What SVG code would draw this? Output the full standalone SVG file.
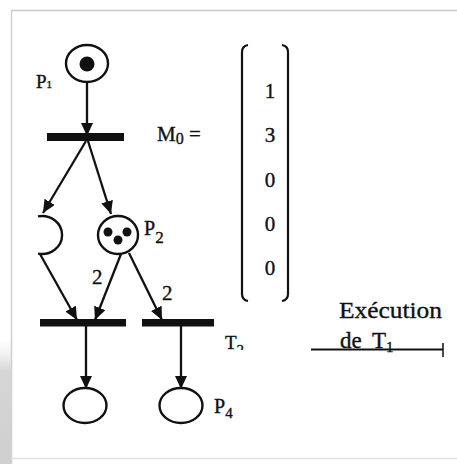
<svg xmlns="http://www.w3.org/2000/svg" width="457" height="464" viewBox="0 0 457 464">
<defs>
<style>
.pl{fill:#fff;stroke:#111;stroke-width:2.4}
.tk{fill:#111}
.tr{fill:#111}
.ar{stroke:#111;stroke-width:2.3;fill:none;marker-end:url(#ah)}
.t{font-family:"Liberation Serif","Times New Roman",serif;fill:#111;stroke:#111;stroke-width:0.35}
</style>
<marker id="ah" viewBox="0 0 13 12" refX="13" refY="6" markerWidth="13" markerHeight="12" markerUnits="userSpaceOnUse" orient="auto">
<path d="M0,0 L13,6 L0,12 Z" fill="#111"/>
</marker>
<linearGradient id="sh" x1="0" y1="0" x2="0" y2="1">
<stop offset="0" stop-color="#e8e8e8" stop-opacity="0"/>
<stop offset="0.25" stop-color="#d6d6d6"/>
<stop offset="1" stop-color="#cfcfcf"/>
</linearGradient>
<clipPath id="cutT2"><rect x="200" y="320" width="80" height="30"/></clipPath>
</defs>
<rect x="0" y="0" width="457" height="464" fill="#fff"/>
<g id="frame">
<rect x="0" y="340" width="11" height="124" fill="url(#sh)"/>
<line x1="11" y1="10.5" x2="457" y2="10.5" stroke="#c8c8c8" stroke-width="1.5"/>
<line x1="11.5" y1="10" x2="11.5" y2="464" stroke="#d0d0d0" stroke-width="1.5"/>
<line x1="11" y1="458.5" x2="457" y2="458.5" stroke="#e2e2e2" stroke-width="1.5"/>
</g>
<g id="connectors">
<line class="ar" x1="87" y1="83" x2="87" y2="136"/>
<line class="ar" x1="86" y1="141" x2="43" y2="213"/>
<line class="ar" x1="88" y1="141" x2="111" y2="214"/>
<line class="ar" x1="40" y1="254" x2="77" y2="320"/>
<line class="ar" x1="121" y1="254" x2="95" y2="320"/>
<line class="ar" x1="129" y1="253" x2="162" y2="320"/>
<line class="ar" x1="86" y1="326" x2="86" y2="389"/>
<line class="ar" x1="181" y1="326" x2="181" y2="389"/>
<text class="t" x="92" y="284" font-size="21">2</text>
<text class="t" x="162" y="300" font-size="21">2</text>
</g>
<g id="P1">
<ellipse class="pl" cx="87" cy="63.5" rx="21" ry="18.5"/>
<circle class="tk" cx="87" cy="64" r="7.5"/>
<text class="t" x="36" y="88" font-size="19">P<tspan font-size="11">1</tspan></text>
</g>
<g id="T1">
<rect class="tr" x="47" y="133" width="77" height="8"/>
</g>
<g id="P3">
<path class="pl" d="M38,216.4 A20,19 0 1 1 38,253.6" fill="none"/>
</g>
<g id="P2">
<ellipse class="pl" cx="118" cy="235" rx="20" ry="19"/>
<circle class="tk" cx="108" cy="232" r="4.5"/>
<circle class="tk" cx="127" cy="232" r="4.5"/>
<circle class="tk" cx="118" cy="240" r="4.5"/>
<text class="t" x="144" y="235" font-size="20">P<tspan font-size="17" dy="8">2</tspan></text>
</g>
<g id="T2a">
<rect class="tr" x="40" y="319" width="86" height="7.5"/>
</g>
<g id="T2">
<rect class="tr" x="142" y="319" width="72" height="7.5"/>
<text class="t" x="225" y="349" font-size="19" clip-path="url(#cutT2)">T<tspan font-size="15" dy="6">2</tspan></text>
</g>
<g id="P5">
<ellipse class="pl" cx="85" cy="405.5" rx="21.5" ry="17.5"/>
</g>
<g id="P4">
<ellipse class="pl" cx="181" cy="405.5" rx="21.5" ry="17.5"/>
<text class="t" x="214" y="413" font-size="20">P<tspan font-size="15" dy="5">4</tspan></text>
</g>
<g id="M0">
<text class="t" x="157" y="141" font-size="21">M<tspan font-size="16" dy="3">0</tspan><tspan dy="-3"> =</tspan></text>
<path d="M248,45 Q242,46 242,52 L242,294 Q242,300 248,301" fill="none" stroke="#111" stroke-width="2.2"/>
<path d="M282,45 Q288,46 288,52 L288,294 Q288,300 282,301" fill="none" stroke="#111" stroke-width="2.2"/>
<g class="t" font-size="21" text-anchor="middle">
<text x="270" y="98">1</text>
<text x="270" y="142">3</text>
<text x="270" y="187">0</text>
<text x="270" y="231">0</text>
<text x="270" y="275">0</text>
</g>
</g>
<g id="execution">
<text class="t" x="339" y="318" font-size="24" textLength="103" lengthAdjust="spacingAndGlyphs">Exécution</text>
<text class="t" x="340" y="348" font-size="23">de <tspan x="372">T</tspan><tspan font-size="15" dy="4">1</tspan></text>
<line x1="311" y1="349.5" x2="443" y2="349.5" stroke="#111" stroke-width="2.2"/>
<line x1="443" y1="343" x2="443" y2="357" stroke="#111" stroke-width="1.5"/>
</g>
</svg>
